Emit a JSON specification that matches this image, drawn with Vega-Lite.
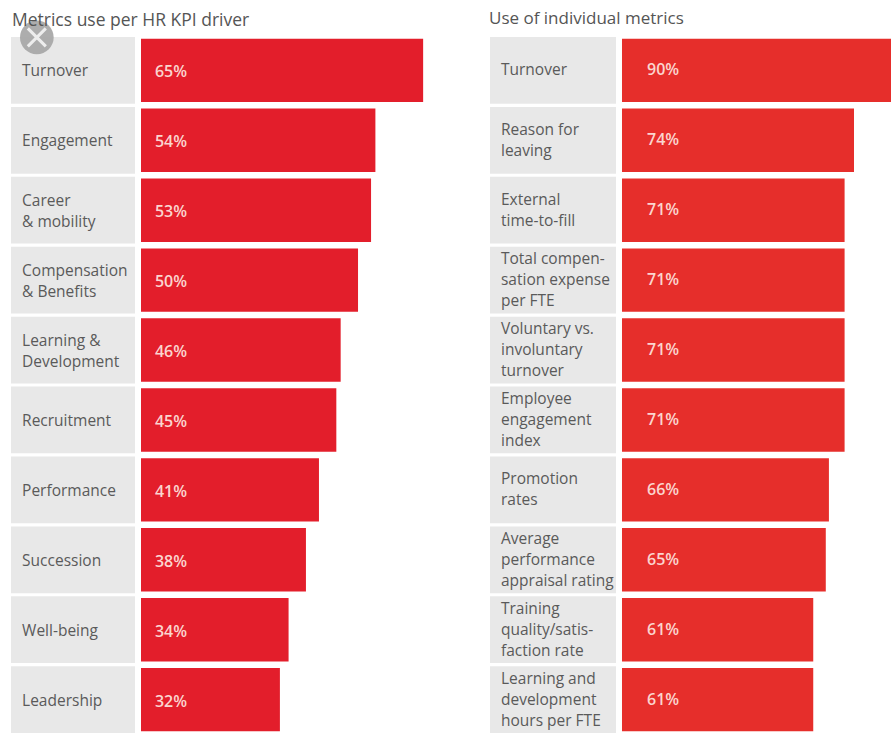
{
  "$schema": "https://vega.github.io/schema/vega-lite/v6.json",
  "background": "white",
  "padding": {"left": 11, "top": 10, "right": 0, "bottom": 0},
  "spacing": 9,
  "config": {"view": {"stroke": null}},
  "hconcat": [
    {
      "width": 469,
      "height": 696,
      "title": {"text": "Metrics use per HR KPI driver", "anchor": "start", "frame": "group", "font": "Open Sans", "fontSize": 17.5, "fontWeight": "normal", "color": "#555555", "offset": -9, "dx": 1},
      "data": {"values": [
        {"label": "Turnover", "value": 0.65},
        {"label": "Engagement", "value": 0.54},
        {"label": "Career\n& mobility", "value": 0.53},
        {"label": "Compensation\n& Benefits", "value": 0.50},
        {"label": "Learning &\nDevelopment", "value": 0.46},
        {"label": "Recruitment", "value": 0.45},
        {"label": "Performance", "value": 0.41},
        {"label": "Succession", "value": 0.38},
        {"label": "Well-being", "value": 0.34},
        {"label": "Leadership", "value": 0.32}
      ]},
      "encoding": {
        "y": {"field": "label", "type": "nominal", "sort": null, "axis": null, "scale": {"paddingInner": 0.045, "paddingOuter": 0}}
      },
      "layer": [
        {
          "mark": {"type": "rect", "color": "#E8E8E8"},
          "encoding": {
            "x": {"datum": -0.2995, "type": "quantitative", "axis": null, "scale": {"domain": [-0.2995, 0.781], "nice": false, "zero": false}},
            "x2": {"datum": -0.0138}
          }
        },
        {
          "mark": {"type": "bar", "color": "#E31E2B", "height": {"band": 0.95}},
          "encoding": {
            "x": {"field": "value", "type": "quantitative", "axis": null}
          }
        },
        {
          "transform": [{"filter": "indexof(datum.label, '\\n') < 0"}],
          "mark": {"type": "text", "align": "left", "baseline": "middle", "font": "Open Sans", "fontSize": 15.5, "color": "#5A5A5A", "dy": 1},
          "encoding": {
            "x": {"datum": -0.274, "type": "quantitative"},
            "text": {"field": "label"}
          }
        },
        {
          "transform": [{"filter": "indexof(datum.label, '\\n') >= 0"}],
          "mark": {"type": "text", "align": "left", "baseline": "middle", "font": "Open Sans", "fontSize": 15.5, "color": "#5A5A5A", "lineBreak": "\n", "lineHeight": 21, "dy": -9.5},
          "encoding": {
            "x": {"datum": -0.274, "type": "quantitative"},
            "text": {"field": "label"}
          }
        },
        {
          "mark": {"type": "text", "align": "left", "baseline": "middle", "font": "Open Sans", "fontSize": 16, "fontWeight": 600, "color": "#FBD5CF", "dy": 2},
          "encoding": {
            "x": {"datum": 0.032, "type": "quantitative"},
            "text": {"field": "value", "format": ".0%"}
          }
        },
        {
          "transform": [{"filter": "datum.label === 'Turnover'"}],
          "mark": {"type": "point", "filled": true, "shape": "circle", "size": 1134, "color": "#A6A6A6", "opacity": 0.92, "yOffset": -33},
          "encoding": {"x": {"datum": -0.24, "type": "quantitative"}}
        },
        {
          "transform": [{"filter": "datum.label === 'Turnover'"}],
          "mark": {"type": "point", "filled": false, "shape": "M-1,-1L1,1M-1,1L1,-1", "size": 324, "color": "#EDEDED", "strokeWidth": 3, "opacity": 1, "yOffset": -33},
          "encoding": {"x": {"datum": -0.24, "type": "quantitative"}}
        }
      ]
    },
    {
      "width": 402,
      "height": 696,
      "title": {"text": "Use of individual metrics", "anchor": "start", "frame": "group", "font": "Open Sans", "fontSize": 17, "fontWeight": "normal", "color": "#555555", "offset": 9, "dx": -1},
      "data": {"values": [
        {"label": "Turnover", "value": 0.90},
        {"label": "Reason for\nleaving", "value": 0.74},
        {"label": "External\ntime-to-fill", "value": 0.71},
        {"label": "Total compen-\nsation expense\nper FTE", "value": 0.71},
        {"label": "Voluntary vs.\ninvoluntary\nturnover", "value": 0.71},
        {"label": "Employee\nengagement\nindex", "value": 0.71},
        {"label": "Promotion\nrates", "value": 0.66},
        {"label": "Average\nperformance\nappraisal rating", "value": 0.65},
        {"label": "Training\nquality/satis-\nfaction rate", "value": 0.61},
        {"label": "Learning and\ndevelopment\nhours per FTE", "value": 0.61}
      ]},
      "encoding": {
        "y": {"field": "label", "type": "nominal", "sort": null, "axis": null, "scale": {"paddingInner": 0.045, "paddingOuter": 0}}
      },
      "layer": [
        {
          "mark": {"type": "rect", "color": "#E8E8E8"},
          "encoding": {
            "x": {"datum": -0.421, "type": "quantitative", "axis": null, "scale": {"domain": [-0.421, 0.8612], "nice": false, "zero": false}},
            "x2": {"datum": -0.019}
          }
        },
        {
          "mark": {"type": "bar", "color": "#E62E2B", "height": {"band": 0.95}, "clip": true},
          "encoding": {
            "x": {"field": "value", "type": "quantitative", "axis": null}
          }
        },
        {
          "transform": [{"filter": "indexof(datum.label, '\\n') < 0"}],
          "mark": {"type": "text", "align": "left", "baseline": "middle", "font": "Open Sans", "fontSize": 15.5, "color": "#5A5A5A"},
          "encoding": {
            "x": {"datum": -0.386, "type": "quantitative"},
            "text": {"field": "label"}
          }
        },
        {
          "transform": [{"filter": "length(split(datum.label, '\\n')) === 2"}],
          "mark": {"type": "text", "align": "left", "baseline": "middle", "font": "Open Sans", "fontSize": 15.5, "color": "#5A5A5A", "lineBreak": "\n", "lineHeight": 21, "dy": -10.5},
          "encoding": {
            "x": {"datum": -0.386, "type": "quantitative"},
            "text": {"field": "label"}
          }
        },
        {
          "transform": [{"filter": "length(split(datum.label, '\\n')) === 3"}],
          "mark": {"type": "text", "align": "left", "baseline": "middle", "font": "Open Sans", "fontSize": 15.5, "color": "#5A5A5A", "lineBreak": "\n", "lineHeight": 21, "dy": -21},
          "encoding": {
            "x": {"datum": -0.386, "type": "quantitative"},
            "text": {"field": "label"}
          }
        },
        {
          "mark": {"type": "text", "align": "left", "baseline": "middle", "font": "Open Sans", "fontSize": 16, "fontWeight": 600, "color": "#FBD5CF"},
          "encoding": {
            "x": {"datum": 0.08, "type": "quantitative"},
            "text": {"field": "value", "format": ".0%"}
          }
        }
      ]
    }
  ]
}
